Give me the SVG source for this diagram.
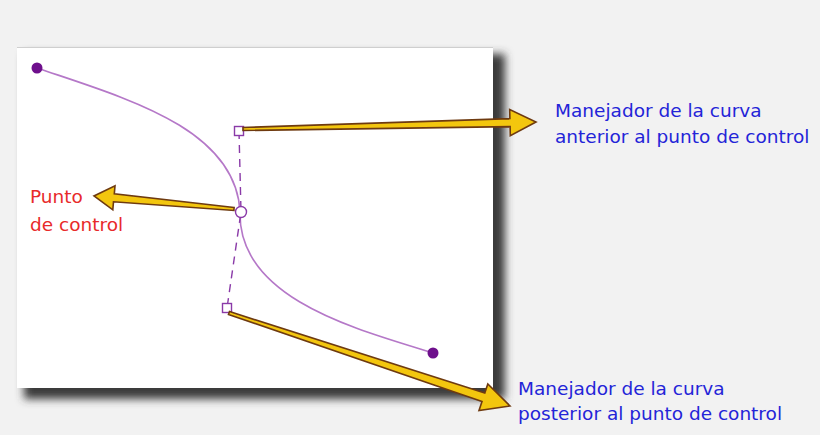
<svg xmlns="http://www.w3.org/2000/svg" width="820" height="435" viewBox="0 0 820 435">
<style>
.lbl{font-family:"DejaVu Sans","Liberation Sans",sans-serif;font-size:18.5px}
.blue{fill:#2424d8}
.red{fill:#e82a2a}
.arrow{fill:#f3c60e;stroke:#6e3a10;stroke-width:1.6;stroke-linejoin:miter}
.curve{fill:none;stroke:#b578c8;stroke-width:1.6}
.handle{fill:none;stroke:#8a3aa8;stroke-width:1.4;stroke-dasharray:8 6}
.sq{fill:#fff;stroke:#8a3aa8;stroke-width:1.4}
.end{fill:#6e0f8c}
</style>
<defs>
<filter id="sh" x="-10%" y="-10%" width="130%" height="130%">
<feGaussianBlur stdDeviation="4"/>
</filter>
</defs>
<rect width="820" height="435" fill="#f2f2f2"/>
<g id="canvas">
<rect x="24" y="54" width="481" height="345" fill="#3a3a3a" filter="url(#sh)"/>
<rect x="17" y="47" width="476" height="341" fill="#ffffff"/>
<line x1="17" y1="47.5" x2="493" y2="47.5" stroke="#cfcfcf" stroke-width="1"/>
</g>
<g id="curve">
<path class="curve" d="M37,68 C125,98 236,128 240,212 C238,300 360,330 433,353"/>
<path class="handle" d="M239,131 L241,212 L227,308"/>
<circle class="end" cx="37" cy="68" r="5.5"/>
<circle class="end" cx="433" cy="353" r="5.5"/>
<circle class="sq" cx="241" cy="212" r="5.5"/>
<rect class="sq" x="234.5" y="126.5" width="9" height="9"/>
<rect class="sq" x="222.5" y="303.5" width="9" height="9"/>
</g>
<g id="connectors">
<polygon class="arrow" points="243,130.5 510.1,126.6 510.3,135.6 536,122 509.7,109.6 509.9,118.6 243,127.5"/>
<polygon class="arrow" points="234.1,207.5 114.3,193.9 115.0,185.9 94,196 112.8,209.8 113.5,201.8 233.9,210.5"/>
<polygon class="arrow" points="228.5,314.4 482.0,401.5 479.0,410.5 510,406 487.8,383.9 484.8,392.9 229.5,311.6"/>
</g>
<g id="label-anterior">
<text class="lbl blue" x="555" y="117">Manejador de la curva</text>
<text class="lbl blue" x="555" y="143">anterior al punto de control</text>
</g>
<g id="label-posterior">
<text class="lbl blue" x="518" y="395">Manejador de la curva</text>
<text class="lbl blue" x="518" y="420">posterior al punto de control</text>
</g>
<g id="label-punto">
<text class="lbl red" x="30" y="203">Punto</text>
<text class="lbl red" x="30" y="231">de control</text>
</g>
</svg>
